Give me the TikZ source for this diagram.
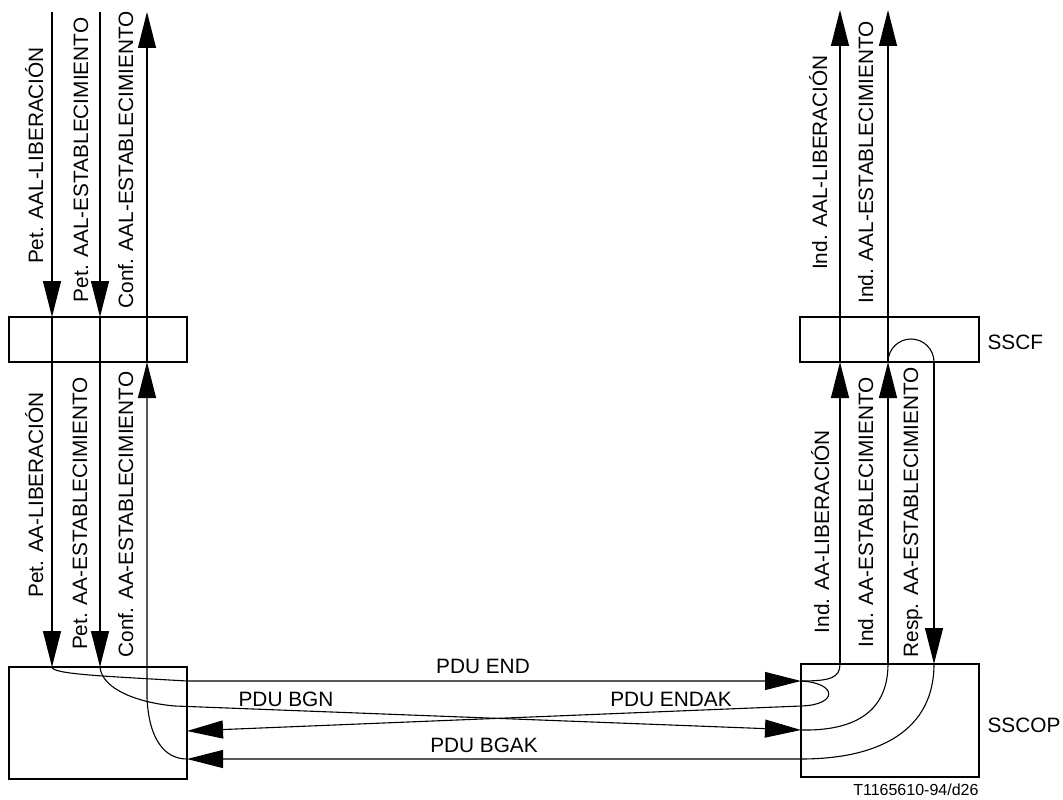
\documentclass[tikz,border=0pt]{standalone}
\usepackage{fontspec}
\setmainfont{Liberation Sans}
\usetikzlibrary{arrows.meta}
\begin{document}
\begin{tikzpicture}[x=1pt,y=-1pt,
  line width=1.1pt,
  arr/.style={-{Triangle[length=36pt,width=18pt]}},
  boxn/.style={draw,anchor=north west,inner sep=0pt,outer sep=0pt},
  lbl/.style={font=\fontsize{20.8}{24}\selectfont,inner sep=0pt,anchor=base},
  vlbl/.style={lbl,rotate=90},
  small/.style={font=\fontsize{16}{19}\selectfont,inner sep=0pt}]
\useasboundingbox (0,0) rectangle (1063,800);
% boxes
\node[boxn,minimum width=178pt,minimum height=45pt] (sscfL) at (9,317) {};
\node[boxn,minimum width=178pt,minimum height=112pt] (sscopL) at (9,667) {};
\node[boxn,minimum width=179pt,minimum height=45pt] (sscfR) at (800,317) {};
\node[boxn,minimum width=178pt,minimum height=113pt] (sscopR) at (801,664) {};
% coordinates
\coordinate (a1) at (52,12);
\coordinate (a2) at (100,12);
\coordinate (a3) at (147,12);
\coordinate (a3low) at (147,698);
\coordinate (c1) at (840,10);
\coordinate (c2) at (888,10);
\coordinate (c3) at (934,362);
\coordinate (endR) at (801,681);
\coordinate (bgnR) at (801,730);
\coordinate (endakR) at (801,706);
\coordinate (endakL) at (187,731);
\coordinate (bgakR) at (801,759);
\coordinate (bgakL) at (187,759);
% left side
\draw[arr] (a1) -- (a1 |- sscfL.north);
\draw[arr] (a1 |- sscfL.north) -- (a1 |- sscopL.north);
\draw[arr] (a2) -- (a2 |- sscfL.north);
\draw[arr] (a2 |- sscfL.north) -- (a2 |- sscopL.north);
\draw[arr] (a3 |- sscfL.south) -- (a3);
\draw[arr] (bgakL) .. controls (165,759) and (149,740) .. (a3low) -- (a3 |- sscfL.south);
% PDU END
\draw[arr] (a1 |- sscopL.north) .. controls (52,674) and (100,676) .. (187,681) -- (endR);
% PDU BGN
\draw[arr] (a2 |- sscopL.north) .. controls (102,690) and (140,703) .. (175,706) -- (bgnR);
% right side
\draw[arr] (c1 |- sscfR.south) -- (c1);
\draw[arr] (c1 |- sscopR.north) -- (c1 |- sscfR.south);
\draw (endR) .. controls (830,681) and (840,678) .. (c1 |- sscopR.north);
\draw[arr] (c2 |- sscfR.south) -- (c2);
\draw[arr] (c2 |- sscopR.north) -- (c2 |- sscfR.south);
\draw (bgnR) .. controls (850,731) and (888,715) .. (c2 |- sscopR.north);
% loop in SSCF and Resp
\draw (c2 |- sscfR.south) .. controls (888,349.3) and (898.3,339) .. (911,339)
      .. controls (923.7,339) and (934,349.3) .. (c3);
\draw[arr] (c3) -- (c3 |- sscopR.north);
% PDU BGAK
\draw[arr] (c3 |- sscopR.north) .. controls (934,730) and (880,759) .. (bgakR) -- (bgakL);
% PDU ENDAK
\draw[arr] (endR) .. controls (838,683) and (838,705) .. (endakR) -- (endakL);
% vertical labels
\node[vlbl] (t1) at (43,155.5) {Pet. AAL-LIBERACIÓN};
\node[vlbl] (t2) at (88,160) {Pet. AAL-ESTABLECIMIENTO};
\node[vlbl] (t3) at (133,160) {Conf. AAL-ESTABLECIMIENTO};
\node[vlbl] (t4) at (827,162.5) {Ind. AAL-LIBERACIÓN};
\node[vlbl] (t5) at (873,162.5) {Ind. AAL-ESTABLECIMIENTO};
\node[vlbl] (m1) at (43,495) {Pet. AA-LIBERACIÓN};
\node[vlbl] (m2) at (87,513.5) {Pet. AA-ESTABLECIMIENTO};
\node[vlbl] (m3) at (133,514.5) {Conf. AA-ESTABLECIMIENTO};
\node[vlbl] (m4) at (829,531.5) {Ind. AA-LIBERACIÓN};
\node[vlbl] (m5) at (873,512.5) {Ind. AA-ESTABLECIMIENTO};
\node[vlbl] (m6) at (918,512.5) {Resp. AA-ESTABLECIMIENTO};
% horizontal labels
\node[lbl] (h1) at (483,673) {PDU END};
\node[lbl] (h2) at (286,706) {PDU BGN};
\node[lbl] (h3) at (671,706) {PDU ENDAK};
\node[lbl] (h4) at (484,752) {PDU BGAK};
\node[lbl,anchor=base west] (n1) at (987,349) {SSCF};
\node[lbl,anchor=base west] (n2) at (987,732) {SSCOP};
\node[small,anchor=base east] (n3) at (979,795) {T1165610-94/d26};
\end{tikzpicture}
\end{document}
